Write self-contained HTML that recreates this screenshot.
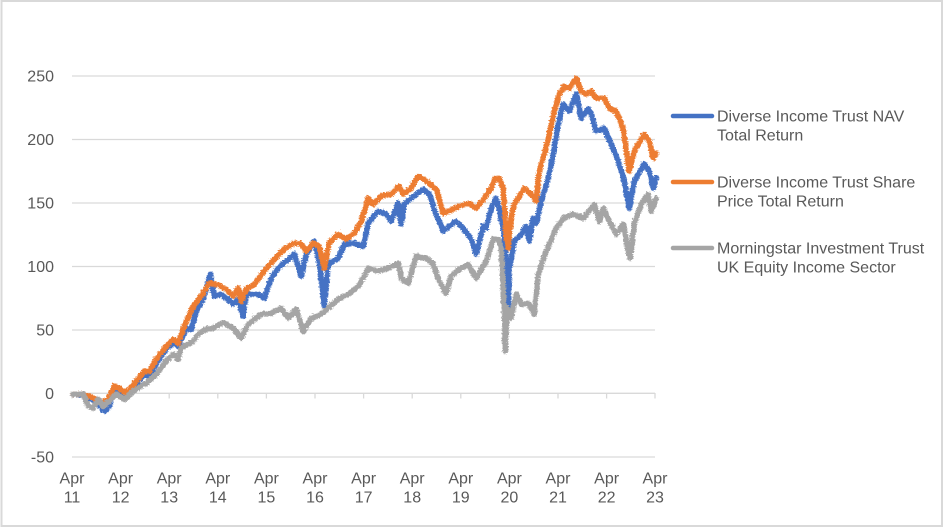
<!DOCTYPE html>
<html>
<head>
<meta charset="utf-8">
<style>
html,body{margin:0;padding:0;background:#fff;}
svg{display:block;}
text{font-family:"Liberation Sans",Arial,sans-serif;fill:#595959;font-size:16px;}
</style>
</head>
<body>
<svg width="943" height="528" viewBox="0 0 943 528" xmlns="http://www.w3.org/2000/svg">
<defs>
<filter id="jag" filterUnits="userSpaceOnUse" x="0" y="0" width="943" height="528">
<feTurbulence type="turbulence" baseFrequency="0.35 0.6" numOctaves="1" seed="7" result="t"/>
<feDisplacementMap in="SourceGraphic" in2="t" scale="3.5" xChannelSelector="R" yChannelSelector="G"/>
</filter>
</defs>
<rect x="0" y="0" width="943" height="528" fill="#fff"/>
<rect x="1.5" y="1" width="940.5" height="525" fill="none" stroke="#d9d9d9" stroke-width="2"/>

<!-- gridlines -->
<g stroke="#d9d9d9" stroke-width="1.3">
<line x1="72" y1="76" x2="655" y2="76"/>
<line x1="72" y1="139.5" x2="655" y2="139.5"/>
<line x1="72" y1="203" x2="655" y2="203"/>
<line x1="72" y1="266.5" x2="655" y2="266.5"/>
<line x1="72" y1="330" x2="655" y2="330"/>
<line x1="72" y1="393.3" x2="655" y2="393.3"/>
<line x1="72" y1="457" x2="655" y2="457"/>
<line x1="72" y1="393" x2="72" y2="398.5"/>
<line x1="120.6" y1="393" x2="120.6" y2="398.5"/>
<line x1="169.2" y1="393" x2="169.2" y2="398.5"/>
<line x1="217.8" y1="393" x2="217.8" y2="398.5"/>
<line x1="266.4" y1="393" x2="266.4" y2="398.5"/>
<line x1="315" y1="393" x2="315" y2="398.5"/>
<line x1="363.6" y1="393" x2="363.6" y2="398.5"/>
<line x1="412.2" y1="393" x2="412.2" y2="398.5"/>
<line x1="460.8" y1="393" x2="460.8" y2="398.5"/>
<line x1="509.4" y1="393" x2="509.4" y2="398.5"/>
<line x1="558" y1="393" x2="558" y2="398.5"/>
<line x1="606.6" y1="393" x2="606.6" y2="398.5"/>
<line x1="655" y1="393" x2="655" y2="398.5"/>
</g>

<!-- y labels -->
<g text-anchor="end">
<text x="54" y="81.5">250</text>
<text x="54" y="145">200</text>
<text x="54" y="208.5">150</text>
<text x="54" y="272">100</text>
<text x="54" y="335.5">50</text>
<text x="54" y="399">0</text>
<text x="54" y="462.5">-50</text>
</g>

<!-- x labels -->
<g text-anchor="middle">
<text x="72" y="483.5">Apr</text><text x="72" y="502.5">11</text>
<text x="120.6" y="483.5">Apr</text><text x="120.6" y="502.5">12</text>
<text x="169.2" y="483.5">Apr</text><text x="169.2" y="502.5">13</text>
<text x="217.8" y="483.5">Apr</text><text x="217.8" y="502.5">14</text>
<text x="266.4" y="483.5">Apr</text><text x="266.4" y="502.5">15</text>
<text x="315" y="483.5">Apr</text><text x="315" y="502.5">16</text>
<text x="363.6" y="483.5">Apr</text><text x="363.6" y="502.5">17</text>
<text x="412.2" y="483.5">Apr</text><text x="412.2" y="502.5">18</text>
<text x="460.8" y="483.5">Apr</text><text x="460.8" y="502.5">19</text>
<text x="509.4" y="483.5">Apr</text><text x="509.4" y="502.5">20</text>
<text x="558" y="483.5">Apr</text><text x="558" y="502.5">21</text>
<text x="606.6" y="483.5">Apr</text><text x="606.6" y="502.5">22</text>
<text x="655" y="483.5">Apr</text><text x="655" y="502.5">23</text>
</g>

<!-- series -->
<g fill="none" stroke-width="5.6" stroke-linejoin="round" stroke-linecap="round" filter="url(#jag)">
<polyline stroke="#4472C4" points="72,393 82,394 95,400 103,410 108,405 113,388 118,390 125,393 135,383 143,373 148,375 155,362 165,348 172,342 177,345 185,327 190,328 195,310 202,298 209,273 213,295 220,293 225,297 232,303 237,298 242,315 245,293 257,293 263,297 270,277 277,267 287,258 293,253 300,275 305,253 313,240 318,260 323,305 327,263 337,257 343,243 353,242 362,245 367,222 377,210 385,213 390,220 397,202 400,223 403,203 415,193 422,188 428,193 433,208 442,230 448,225 455,220 462,227 470,238 475,253 482,225 485,227 490,207 495,197 498,208 502,227 505,260 507,307 508,270 513,240 520,233 525,225 528,240 532,217 535,222 540,200 547,177 552,153 557,123 562,103 568,110 575,93 580,117 587,107 590,113 595,130 603,127 610,143 617,160 623,180 628,207 633,180 643,163 648,170 652,187 655,177"/>
<polyline stroke="#ED7D31" points="72,393 82,393 95,398 102,402 107,397 113,385 118,387 125,392 135,380 143,370 148,370 155,358 165,345 172,338 177,342 185,320 192,305 202,292 208,282 215,283 225,288 232,295 237,287 240,300 245,288 253,283 263,270 273,258 283,248 293,242 300,243 305,250 312,242 318,245 323,267 328,242 337,233 345,238 353,232 360,220 367,197 372,203 380,195 390,193 398,185 402,193 410,187 417,175 422,178 428,182 435,188 442,212 448,210 458,205 468,202 475,207 483,197 490,187 494,177 498,177 502,187 505,233 507,247 510,217 513,203 517,197 523,187 530,193 535,200 538,170 543,153 548,133 553,110 558,93 563,85 568,87 575,77 580,90 585,93 590,90 595,97 603,97 608,107 615,110 622,127 628,170 633,150 643,133 648,140 652,157 655,152"/>
<polyline stroke="#A5A5A5" points="72,393 82,393 87,405 92,407 97,398 102,405 108,400 115,393 123,398 132,390 145,382 155,373 165,360 172,353 177,358 180,347 192,340 198,332 205,328 212,327 222,321 232,327 240,337 247,323 260,313 270,312 280,307 287,317 295,308 302,330 310,317 320,313 327,307 337,298 347,293 357,285 363,275 367,267 377,270 387,267 397,262 400,277 407,282 415,255 425,257 432,263 438,280 445,292 450,275 458,268 467,263 475,277 482,265 485,260 492,238 497,238 500,247 503,307 504,350 506,307 510,317 515,293 520,303 527,302 533,313 537,273 545,250 555,227 562,217 572,213 582,217 588,210 593,203 598,220 602,207 608,220 615,233 622,223 627,250 629,257 633,223 640,203 647,193 650,210 655,197"/>
</g>

<!-- legend -->
<g stroke-width="4.5" stroke-linecap="round">
<line x1="673" y1="116" x2="712" y2="116" stroke="#4472C4"/>
<line x1="673" y1="182" x2="712" y2="182" stroke="#ED7D31"/>
<line x1="673" y1="248" x2="712" y2="248" stroke="#A5A5A5"/>
</g>
<text x="717" y="121.5">Diverse Income Trust NAV</text>
<text x="717" y="140.5">Total Return</text>
<text x="717" y="187.5">Diverse Income Trust Share</text>
<text x="717" y="206.5">Price Total Return</text>
<text x="717" y="253.5">Morningstar Investment Trust</text>
<text x="717" y="272.5">UK Equity Income Sector</text>
</svg>
</body>
</html>
